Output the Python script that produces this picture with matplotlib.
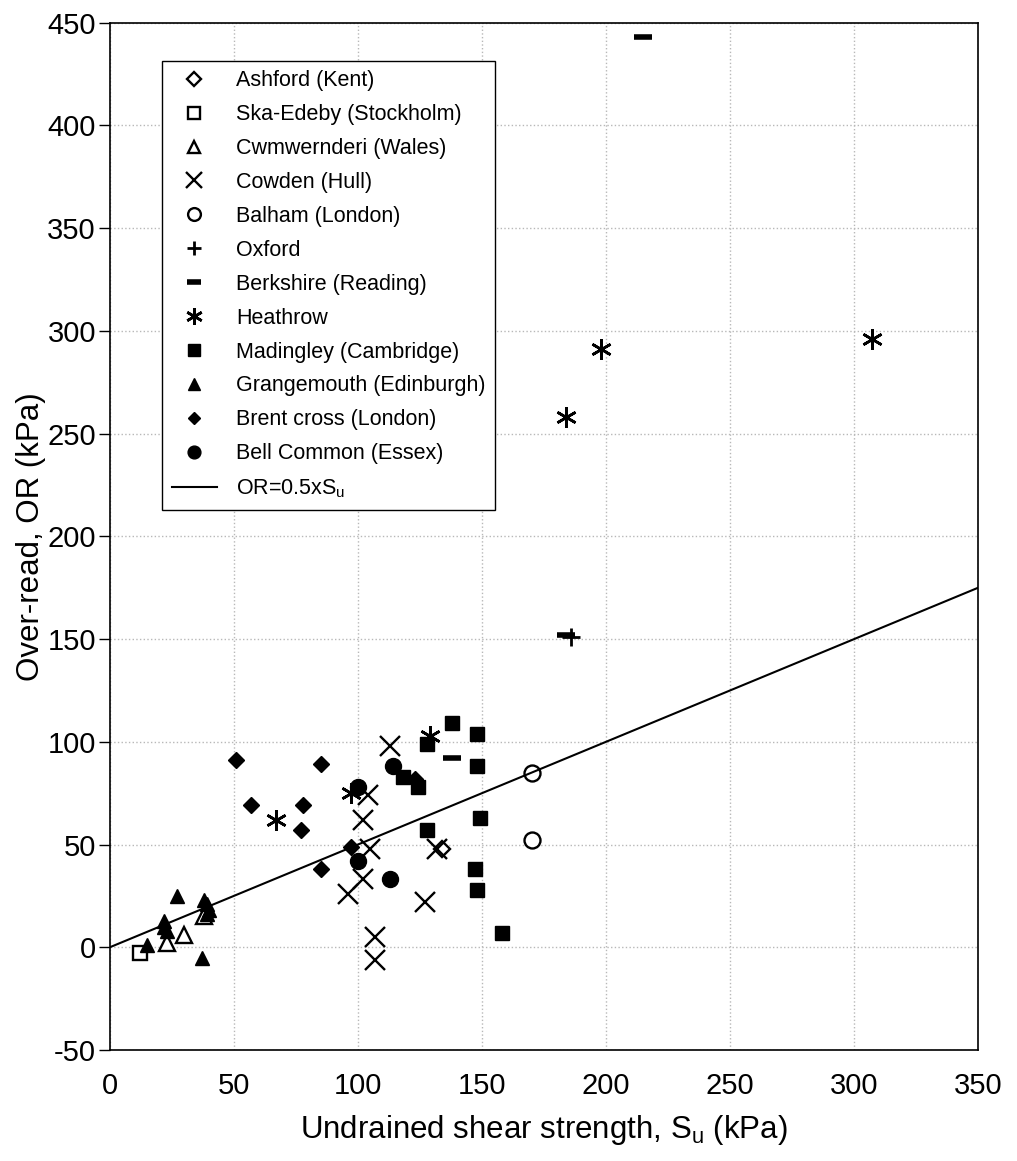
import matplotlib
matplotlib.use("Agg")
import matplotlib.pyplot as plt
import numpy as np

plt.rcParams['font.family'] = ['Liberation Sans', 'DejaVu Sans']
plt.rcParams['mathtext.fontset'] = 'custom'
plt.rcParams['mathtext.rm'] = 'Liberation Sans'
plt.rcParams['mathtext.it'] = 'Liberation Sans'
plt.rcParams['axes.unicode_minus'] = False

# ---- data ----
ashford_x = [134]
ashford_y = [48]
ska_x = [12]
ska_y = [-3]
cwm_x = [23, 30, 38]
cwm_y = [2, 6, 15]
cowden_x = [113, 104, 102, 105, 102, 96, 127, 107, 107, 132]
cowden_y = [98, 74, 62, 48, 33, 26, 22, 5, -6, 48]
balham_x = [170, 170]
balham_y = [85, 52]
oxford_x = [186]
oxford_y = [151]
berk_x = [215, 184, 138]
berk_y = [443, 152, 92]
heath_x = [307, 198, 184, 129, 67, 97]
heath_y = [296, 291, 258, 103, 62, 75]
mad_x = [138, 148, 148, 128, 118, 124, 149, 128, 147, 148, 158]
mad_y = [109, 104, 88, 99, 83, 78, 63, 57, 38, 28, 7]
grange_x = [15, 27, 38, 39, 40, 39, 22, 22, 23, 37]
grange_y = [1, 25, 23, 21, 18, 16, 13, 10, 8, -5]
brent_x = [51, 85, 57, 78, 77, 97, 85, 123]
brent_y = [91, 89, 69, 69, 57, 49, 38, 82]
bell_x = [114, 100, 100, 113]
bell_y = [88, 78, 42, 33]

line_x = [0, 350]
line_slope = 0.5

x_ticks = [0, 50, 100, 150, 200, 250, 300, 350]
y_ticks = [-50, 0, 50, 100, 150, 200, 250, 300, 350, 400, 450]

fig = plt.figure(figsize=(10.17, 11.61), dpi=100)
ax = fig.add_axes([0.108, 0.0956, 0.854, 0.885])

k = 'black'
ax.plot(ashford_x, ashford_y, ls='none', marker='D', ms=8.5, mfc='white', mec=k, mew=1.7, label='Ashford (Kent)')
ax.plot(ska_x, ska_y, ls='none', marker='s', ms=10.5, mfc='white', mec=k, mew=1.7, label='Ska-Edeby (Stockholm)')
ax.plot(cwm_x, cwm_y, ls='none', marker='^', ms=11, mfc='white', mec=k, mew=1.7, label='Cwmwernderi (Wales)')
ax.plot(cowden_x, cowden_y, ls='none', marker='x', ms=14, mec=k, mew=1.7, label='Cowden (Hull)')
ax.plot(balham_x, balham_y, ls='none', marker='o', ms=11.5, mfc='white', mec=k, mew=1.7, label='Balham (London)')
ax.plot(oxford_x, oxford_y, ls='none', marker='+', ms=13, mec=k, mew=2, label='Oxford')
ax.plot(berk_x, berk_y, ls='none', marker='_', ms=12.5, mec=k, mew=4, label='Berkshire (Reading)')
ax.plot(heath_x, heath_y, ls='none', marker=(6, 2, 0), ms=15, mec=k, mew=1.9, label='Heathrow')
ax.plot(mad_x, mad_y, ls='none', marker='s', ms=10, mfc=k, mec=k, label='Madingley (Cambridge)')
ax.plot(grange_x, grange_y, ls='none', marker='^', ms=10.5, mfc=k, mec=k, label='Grangemouth (Edinburgh)')
ax.plot(brent_x, brent_y, ls='none', marker='D', ms=8, mfc=k, mec=k, label='Brent cross (London)')
ax.plot(bell_x, bell_y, ls='none', marker='o', ms=11.5, mfc=k, mec=k, label='Bell Common (Essex)')
lx = np.array(line_x, dtype=float)
ax.plot(lx, line_slope * lx, color=k, lw=1.5, label=r'OR=0.5xS$_\mathrm{u}$')

ax.set_xlim(0, 350)
ax.set_ylim(-50, 450)
ax.set_xticks(x_ticks)
ax.set_yticks(y_ticks)
ax.grid(True, color='#b8b8b8', ls=':', lw=1.0)
ax.set_axisbelow(True)
ax.tick_params(axis='y', direction='out', length=8, width=1, labelsize=21, pad=2)
ax.tick_params(axis='x', length=0, labelsize=21, pad=16)
for s in ax.spines.values():
    s.set_color(k)
    s.set_linewidth(1.2)

ax.set_xlabel(r'Undrained shear strength, S$_\mathrm{u}$ (kPa)', fontsize=22.5, labelpad=9)
ax.set_ylabel('Over-read, OR (kPa)', fontsize=22.5, labelpad=1)

leg = ax.legend(loc='upper left', bbox_to_anchor=(0.06, 0.963), fontsize=15.5,
                frameon=True, fancybox=False, edgecolor=k, framealpha=1,
                labelspacing=0.6, handlelength=2.1, handletextpad=0.9,
                borderpad=0.45, borderaxespad=0, numpoints=1)
leg.get_frame().set_linewidth(1.0)
for h in leg.legend_handles:
    try:
        h.set_markersize(h.get_markersize() * 0.8)
    except Exception:
        pass

fig.savefig('out.png', dpi=100)
